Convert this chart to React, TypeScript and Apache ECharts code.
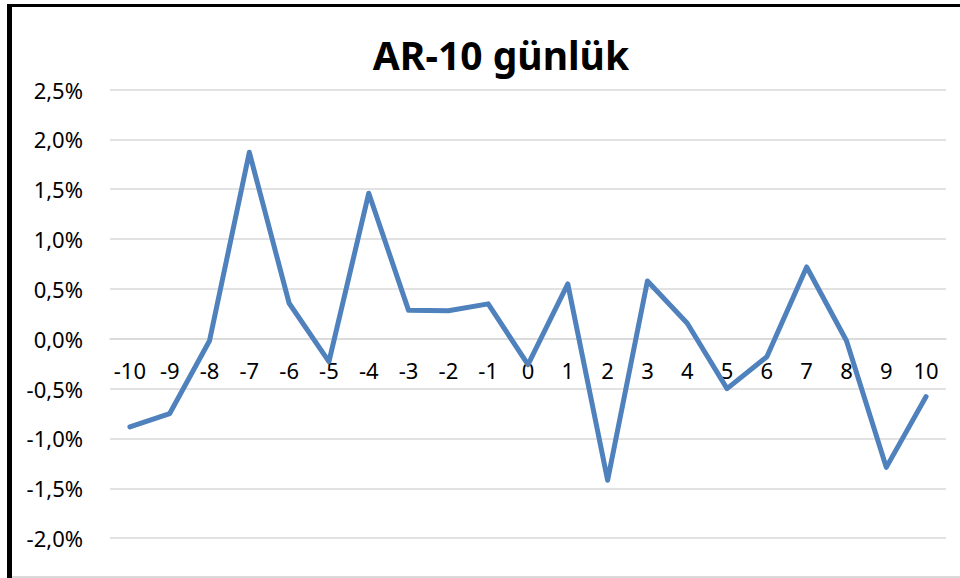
import React, { useEffect, useRef } from "react";
import * as echarts from "echarts";

const titleText = "AR-10 günlük";
const days = ["-10", "-9", "-8", "-7", "-6", "-5", "-4", "-3", "-2", "-1", "0", "1", "2", "3", "4", "5", "6", "7", "8", "9", "10"];
const arValues = [-0.885, -0.75, -0.02, 1.87, 0.356, -0.23, 1.46, 0.285, 0.28, 0.35, -0.26, 0.55, -1.42, 0.58, 0.155, -0.5, -0.18, 0.72, -0.02, -1.29, -0.58];
const yMin = -2.5;
const yMax = 2.5;
const yStep = 0.5;

const FONT = "'Noto Sans', 'Open Sans', sans-serif";

// plot geometry (pixels)
const GRID_TOP = 89.5;
const GRID_BOTTOM_Y = 588; // where yMin sits (below the visible canvas)
const ZERO_Y = GRID_TOP + ((yMax - 0) / (yMax - yMin)) * (GRID_BOTTOM_Y - GRID_TOP);

export default function App() {
  const ref = useRef<HTMLDivElement>(null);
  useEffect(() => {
    if (!ref.current) return;
    const chart = echarts.init(ref.current, null, { renderer: "svg" });
    chart.setOption({
      animation: false,
      backgroundColor: "#ffffff",
      title: {
        text: titleText,
        left: 496,
        top: 30,
        textAlign: "center",
        textStyle: { fontFamily: FONT, fontWeight: "bold", fontSize: 39, color: "#000000" },
      },
      grid: {
        left: 110,
        right: 14,
        top: GRID_TOP,
        bottom: 578 - GRID_BOTTOM_Y,
        containLabel: false,
        outerBoundsMode: "none",
      },
      xAxis: {
        type: "category",
        data: days,
        boundaryGap: true,
        offset: -(GRID_BOTTOM_Y - ZERO_Y),
        axisLine: { show: true, onZero: false, lineStyle: { color: "#d9d9d9", width: 1.5 } },
        axisTick: { show: false },
        axisLabel: { fontFamily: FONT, fontSize: 22, color: "#000000", margin: 20, interval: 0 },
        splitLine: { show: false },
      },
      yAxis: {
        type: "value",
        min: yMin,
        max: yMax,
        interval: yStep,
        axisLine: { show: false },
        axisTick: { show: false },
        axisLabel: {
          fontFamily: FONT,
          fontSize: 22,
          color: "#000000",
          margin: 27,
          showMinLabel: false,
          formatter: (v: number) => v.toFixed(1).replace(".", ",") + "%",
        },
        splitLine: { show: true, lineStyle: { color: "#d9d9d9", width: 1.5 } },
      },
      series: [
        {
          type: "line",
          data: arValues,
          symbol: "none",
          z: 5,
          lineStyle: { color: "#4f81bd", width: 5, cap: "round", join: "round" },
        },
      ],
      graphic: [
        { type: "rect", shape: { x: 7, y: 4, width: 953, height: 3 }, style: { fill: "#000000" } },
        { type: "rect", shape: { x: 7, y: 4, width: 5, height: 574 }, style: { fill: "#000000" } },
        { type: "rect", shape: { x: 12, y: 576, width: 948, height: 2 }, style: { fill: "#d9d9d9" } },
      ],
    });
    return () => chart.dispose();
  }, []);
  return <div ref={ref} style={{ position: "absolute", left: 0, top: 0, width: 960, height: 578 }} />;
}
